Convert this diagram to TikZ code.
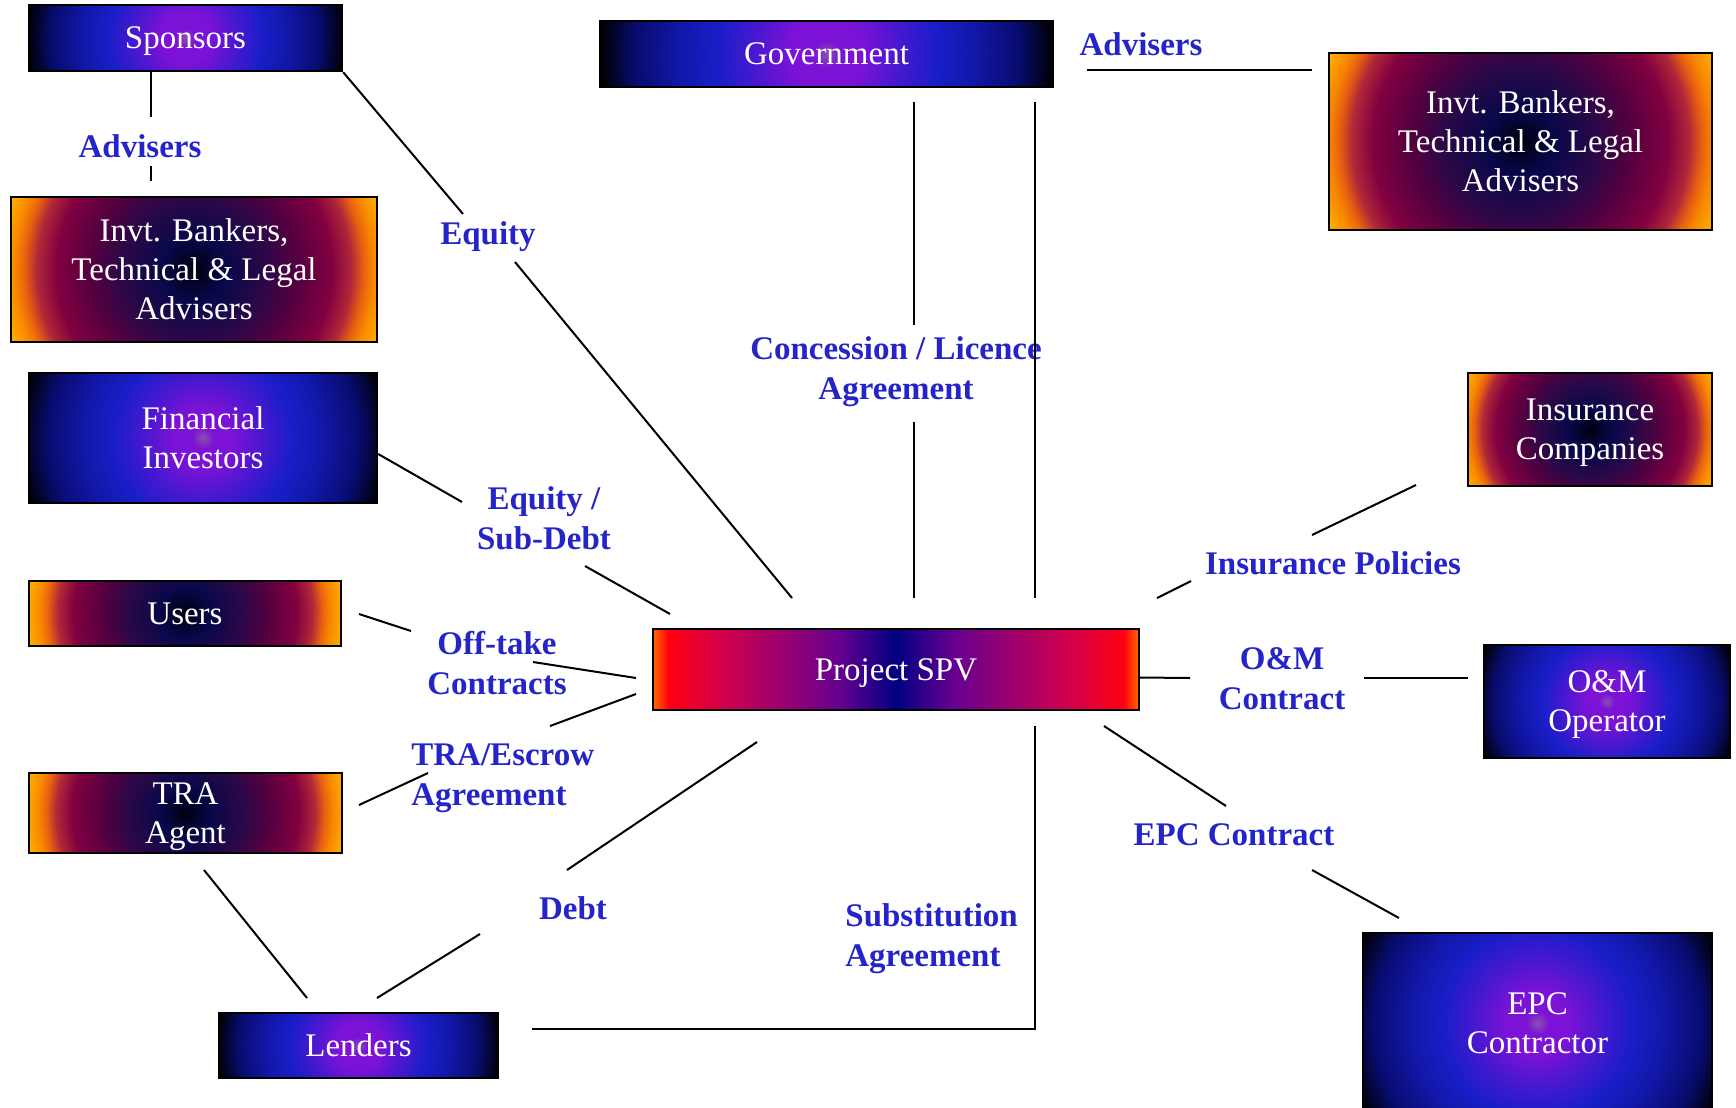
\documentclass[tikz,border=0pt]{standalone}
\usepackage{fontspec}
\setmainfont{Liberation Serif}
\usetikzlibrary{calc}

\definecolor{lblblue}{RGB}{36,36,200}
% glow colours of the blue boxes
\definecolor{bgA}{RGB}{135,80,175}
\definecolor{bgB}{RGB}{124,18,214}
\definecolor{bgC}{RGB}{72,24,208}
\definecolor{bgD}{RGB}{26,30,200}
\definecolor{bgE}{RGB}{18,24,170}
\definecolor{bgF}{RGB}{8,12,110}
\definecolor{bgG}{RGB}{2,2,24}
% glow colours of the orange boxes
\definecolor{ogA}{RGB}{0,0,16}
\definecolor{ogB}{RGB}{8,8,74}
\definecolor{ogC}{RGB}{42,8,72}
\definecolor{ogD}{RGB}{84,0,64}
\definecolor{ogE}{RGB}{130,0,64}
\definecolor{ogF}{RGB}{176,40,56}
\definecolor{ogG}{RGB}{232,96,16}
\definecolor{ogH}{RGB}{248,136,0}
\definecolor{ogI}{RGB}{255,178,0}
% project SPV band
\definecolor{svA}{RGB}{255,106,0}
\definecolor{svB}{RGB}{255,0,16}
\definecolor{svC}{RGB}{216,0,72}
\definecolor{svD}{RGB}{152,0,112}
\definecolor{svE}{RGB}{104,0,144}
\definecolor{svF}{RGB}{0,0,128}

\pgfdeclareradialshading{blueglow}{\pgfpoint{0bp}{0bp}}{%
  color(0bp)=(bgA); color(1.5bp)=(bgB); color(4bp)=(bgB); color(8bp)=(bgC);
  color(12bp)=(bgD); color(16bp)=(bgE); color(21bp)=(bgF); color(24bp)=(bgG);
  color(25bp)=(black); color(50bp)=(black)}
\pgfdeclareradialshading{orangeglow}{\pgfpoint{0bp}{0bp}}{%
  color(0bp)=(ogA); color(4bp)=(ogB); color(9bp)=(ogC); color(13bp)=(ogD);
  color(17.5bp)=(ogE); color(20bp)=(ogF); color(21.5bp)=(ogG); color(22.8bp)=(ogH);
  color(25bp)=(ogI); color(50bp)=(ogI)}
\pgfdeclarehorizontalshading{spvglow}{100bp}{%
  color(0bp)=(svA); color(25bp)=(svA); color(26.6bp)=(svB); color(31.5bp)=(svC);
  color(38.5bp)=(svD); color(44bp)=(svE); color(50bp)=(svF);
  color(56bp)=(svE); color(61.5bp)=(svD); color(68.5bp)=(svC); color(73.4bp)=(svB);
  color(75bp)=(svA); color(100bp)=(svA)}

\begin{document}
\begin{tikzpicture}[
		x=0.5pt, y=-0.5pt,
		box/.style={
			draw=black,
			line width=1.2pt,
			inner sep=0pt,
			text=white,
			text depth=-0.27em,
			align=center,
			font=\fontsize{16.5}{19.5}\selectfont
		},
		bluebox/.style={box, path picture={
				\shade[shading=blueglow]
				let \p1=(path picture bounding box.north east),
				\p2=(path picture bounding box.center),
				\n1={veclen(\x1-\x2,\y1-\y2)} in (\p2) circle [radius=\n1];}},
		orangebox/.style={box, path picture={
				\shade[shading=orangeglow]
				let \p1=(path picture bounding box.north east),
				\p2=(path picture bounding box.center),
				\n1={veclen(\x1-\x2,\y1-\y2)} in (\p2) circle [radius=\n1];}},
		spvbox/.style={box, shading=spvglow},
		lbl/.style={
			text=lblblue,
			inner sep=0pt,
			align=center,
			font=\bfseries\fontsize{16.5}{20}\selectfont
		},
		link/.style={line width=1pt}
		]
		\useasboundingbox (0,0) rectangle (1736,1108);
		
		% Parties on the left
		\node[bluebox, minimum width=156.5pt, minimum height=33pt] (sponsors) at (185.5,38) {Sponsors};
		\node[orangebox, minimum width=183pt, minimum height=72.5pt] (advL) at (194,269.5) {Invt. Bankers,\\Technical \& Legal\\Advisers};
		\node[bluebox, minimum width=174pt, minimum height=65pt] (fin) at (203,438) {Financial\\Investors};
		\node[orangebox, minimum width=156pt, minimum height=32.5pt] (users) at (185,613.5) {Users};
		\node[orangebox, minimum width=156.5pt, minimum height=40pt] (tra) at (185.5,813) {TRA\\Agent};
		\node[bluebox, minimum width=139.5pt, minimum height=32.5pt] (lenders) at (358.5,1045.5) {Lenders};
		
		% Government and the project company
		\node[bluebox, minimum width=226.5pt, minimum height=33pt] (gov) at (826.5,54) {Government};
		\node[spvbox, minimum width=243pt, minimum height=40.5pt] (spv) at (896,669.5) {Project SPV};
		
		% Parties on the right
		\node[orangebox, minimum width=191.5pt, minimum height=88.5pt] (advR) at (1520.5,141.5) {Invt. Bankers,\\Technical \& Legal\\Advisers};
		\node[orangebox, minimum width=122pt, minimum height=56.5pt] (ins) at (1590,429.5) {Insurance\\Companies};
		\node[bluebox, minimum width=123pt, minimum height=56.5pt] (om) at (1607,701.5) {O\&M\\Operator};
		\node[bluebox, minimum width=174.5pt, minimum height=90pt] (epc) at (1537.5,1023) {EPC\\Contractor};
		
		% Contract labels
		\node[lbl] (lAdvL) at (140,146) {Advisers};
		\node[lbl] (lEq) at (488,237) {Equity};
		\node[lbl] (lAdvR) at (1141,44) {Advisers};
		\node[lbl] (lConc) at (896,372) {Concession / Licence\\Agreement};
		\node[lbl] (lEqSub) at (544,518) {Equity /\\Sub-Debt};
		\node[lbl] (lOff) at (497,663) {Off-take\\Contracts};
		\node[lbl, anchor=west, align=left] (lTra) at (411,778) {TRA/Escrow\\Agreement};
		\node[lbl] (lDebt) at (573,908) {Debt};
		\node[lbl, anchor=west, align=left] (lSubs) at (845,939) {Substitution\\Agreement};
		\node[lbl] (lIns) at (1333,563) {Insurance Policies};
		\node[lbl] (lOM) at (1282,679) {O\&M\\Contract};
		\node[lbl] (lEPC) at (1234,835) {EPC Contract};
		
		% Free ends of the links (they stop short of boxes and labels)
		\coordinate (advA) at (151,117);
		\coordinate (advB) at (151,166);
		\coordinate (advC) at (151,181);
		\coordinate (eqA) at (463,214);
		\coordinate (eqB) at (515,262);
		\coordinate (eqC) at (792,598);
		\coordinate (subA) at (462,502);
		\coordinate (subB) at (585,566);
		\coordinate (subC) at (670,614);
		\coordinate (offA) at (359,614);
		\coordinate (offB) at (411,631);
		\coordinate (offC) at (533,662);
		\coordinate (offD) at (636,678);
		\coordinate (traA) at (359,805);
		\coordinate (traB) at (428,773);
		\coordinate (traC) at (550,726);
		\coordinate (traD) at (636,694);
		\coordinate (debtA) at (757,742);
		\coordinate (debtB) at (567,870);
		\coordinate (debtC) at (480,934);
		\coordinate (debtD) at (377,998);
		\coordinate (agtA) at (204,870);
		\coordinate (agtB) at (307,998);
		\coordinate (subsA) at (532,1029);
		\coordinate (subsC) at (1035,726);
		\coordinate (govA) at (914,102);
		\coordinate (govB) at (914,325);
		\coordinate (govC) at (914,422);
		\coordinate (govD) at (914,598);
		\coordinate (govE) at (1035,102);
		\coordinate (govF) at (1035,598);
		\coordinate (advD) at (1087,70);
		\coordinate (advE) at (1312,70);
		\coordinate (insA) at (1157,598);
		\coordinate (insB) at (1191,581);
		\coordinate (insC) at (1312,535);
		\coordinate (insD) at (1416,485);
		\coordinate (omA) at (1190,678);
		\coordinate (omB) at (1364,678);
		\coordinate (omC) at (1468,678);
		\coordinate (epcA) at (1104,726);
		\coordinate (epcB) at (1226,806);
		\coordinate (epcC) at (1312,870);
		\coordinate (epcD) at (1399,918);
		
		% Sponsors side
		\draw[link] (advA |- sponsors.south) -- (advA);
		\draw[link] (advB) -- (advC);
		\draw[link] (sponsors.south east) -- (eqA);
		\draw[link] (eqB) -- (eqC);
		\draw[link] ($(fin.east)+(0,16)$) -- (subA);
		\draw[link] (subB) -- (subC);
		\draw[link] (offA) -- (offB);
		\draw[link] (offC) -- (offD);
		\draw[link] (traD) -- (traC);
		\draw[link] (traB) -- (traA);
		
		% Lenders side
		\draw[link] (debtA) -- (debtB);
		\draw[link] (debtC) -- (debtD);
		\draw[link] (agtA) -- (agtB);
		\draw[link] (subsA) -| (subsC);
		
		% Government
		\draw[link] (govA) -- (govB);
		\draw[link] (govC) -- (govD);
		\draw[link] (govE) -- (govF);
		\draw[link] (advD) -- (advE);
		
		% Right side contracts
		\draw[link] (insA) -- (insB);
		\draw[link] (insC) -- (insD);
		\draw[link] ($(spv.east)+(0,8)$) -- (omA);
		\draw[link] (omB) -- (omC);
		\draw[link] (epcA) -- (epcB);
		\draw[link] (epcC) -- (epcD);
		
\end{tikzpicture}
\end{document}
